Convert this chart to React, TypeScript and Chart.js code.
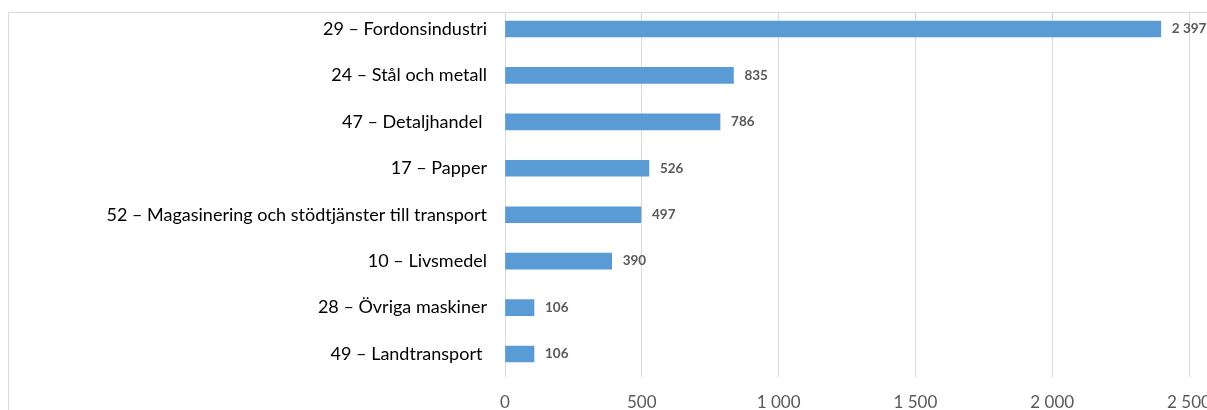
import React, { useEffect, useRef } from "react";
import { Chart, registerables } from "chart.js";

Chart.register(...registerables);

const categories: string[] = [
  "29 – Fordonsindustri",
  "24 – Stål och metall",
  "47 – Detaljhandel ",
  "17 – Papper",
  "52 – Magasinering och stödtjänster till transport",
  "10 – Livsmedel",
  "28 – Övriga maskiner",
  "49 – Landtransport ",
];
const values: number[] = [2397, 835, 786, 526, 497, 390, 106, 106];
const xMin = 0;
const xMax = 2500;
const xStep = 500;

const fmt = (n: number) => String(n).replace(/\B(?=(\d{3})+(?!\d))/g, " ");

const FONT = "Lato, 'Noto Sans', sans-serif";

const dataLabels = {
  id: "dataLabels",
  afterDatasetsDraw(chart: any) {
    const ctx = chart.ctx;
    const meta = chart.getDatasetMeta(0);
    ctx.save();
    ctx.font = `bold 13.5px ${FONT}`;
    ctx.fillStyle = "#595959";
    ctx.textAlign = "left";
    ctx.textBaseline = "middle";
    meta.data.forEach((bar: any, i: number) => {
      ctx.fillText(fmt(values[i]), bar.x + 11, bar.y);
    });
    ctx.restore();
  },
};

const frame = {
  id: "frame",
  afterDraw(chart: any) {
    const ctx = chart.ctx;
    ctx.save();
    ctx.fillStyle = "#ffffff";
    ctx.fillRect(0, 0, chart.width, 12);
    ctx.strokeStyle = "#D9D9D9";
    ctx.lineWidth = 1;
    ctx.beginPath();
    ctx.moveTo(8.5, chart.height + 5);
    ctx.lineTo(8.5, 12.5);
    ctx.lineTo(chart.width + 5, 12.5);
    ctx.stroke();
    ctx.restore();
  },
};

export default function App() {
  const ref = useRef<HTMLCanvasElement | null>(null);
  useEffect(() => {
    if (!ref.current) return;
    const chart = new Chart(ref.current, {
      type: "bar",
      data: {
        labels: categories,
        datasets: [
          {
            data: values,
            backgroundColor: "#5B9BD5",
            borderWidth: 0,
            barThickness: 16,
          },
        ],
      },
      options: {
        indexAxis: "y",
        animation: false,
        responsive: true,
        maintainAspectRatio: false,
        layout: { padding: { left: 0, right: 51, top: 5.8, bottom: 0 } },
        plugins: {
          legend: { display: false },
          tooltip: { enabled: false },
        },
        scales: {
          x: {
            min: xMin,
            max: xMax,
            grid: { color: "#D9D9D9", lineWidth: 1, drawTicks: false },
            border: { display: false },
            ticks: {
              stepSize: xStep,
              padding: 15,
              color: "#595959",
              font: { family: FONT, size: 17 },
              maxRotation: 0,
              callback: (v: any) => fmt(Number(v)),
            },
            afterFit: (s: any) => {
              s.height = 52.8;
              s.paddingLeft = 0;
            },
          },
          y: {
            grid: { display: false, drawTicks: false },
            border: { display: false },
            ticks: {
              padding: 18,
              color: "#000000",
              font: { family: FONT, size: 18 },
              autoSkip: false,
            },
            afterFit: (s: any) => {
              s.width = 505;
              s.paddingTop = 0;
              s.paddingBottom = 0;
            },
          },
        },
      },
      plugins: [dataLabels, frame],
    });
    return () => chart.destroy();
  }, []);
  return (
    <div
      style={{
        position: "fixed",
        left: 0,
        top: 0,
        width: 1207,
        height: 410,
        overflow: "hidden",
        background: "#fff",
      }}
    >
      <div style={{ position: "relative", width: 1240, height: 430 }}>
        <canvas ref={ref} />
      </div>
    </div>
  );
}
